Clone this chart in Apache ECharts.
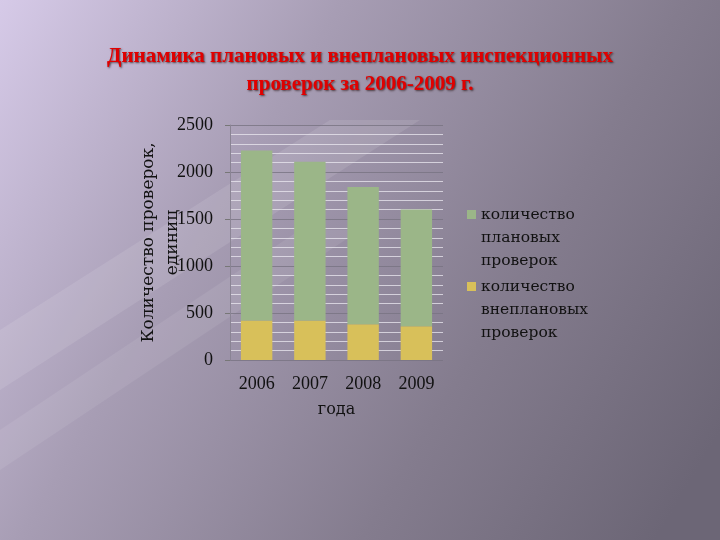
<!DOCTYPE html>
<html>
<head>
<meta charset="utf-8">
<script src="https://cdn.jsdelivr.net/npm/echarts@6/dist/echarts.min.js"></script>
<style>
  html, body { margin: 0; padding: 0; }
  #main { width: 720px; height: 540px; }
</style>
</head>
<body>
<div id="main"></div>
<script>
// годы и значения
var years = ['2006', '2007', '2008', '2009'];
var planned = [1810, 1690, 1460, 1240];   // количество плановых проверок
var unplanned = [420, 420, 380, 360];     // количество внеплановых проверок
var yTicks = [0, 500, 1000, 1500, 2000, 2500];

(function () {
    var dom = document.getElementById('main');
    var myChart = echarts.init(dom);
    var serif = '"DejaVu Serif", "Liberation Serif", serif';
    var numFont = '"Liberation Serif", serif';
    // квадрат маркера легенды прижат к первой строке подписи
    var legendIcon = 'path://M0,0M0,7L9,7L9,16L0,16ZM0,69';
    var option = {
        animation: false,
        backgroundColor: {
            type: 'linear', x: 0, y: 0, x2: 1, y2: 0.8,
            colorStops: [
                { offset: 0, color: '#d6cae8' },
                { offset: 0.35, color: '#a79db4' },
                { offset: 0.7, color: '#847c8e' },
                { offset: 1, color: '#6c6676' }
            ]
        },
        graphic: [
            // светлые диагональные полосы фона
            { type: 'polygon', silent: true, z: -1,
              shape: { points: [[0, 330], [0, 390], [420, 120], [330, 120]] },
              style: { fill: 'rgba(255,255,255,0.10)' } },
            { type: 'polygon', silent: true, z: -1,
              shape: { points: [[0, 430], [0, 470], [360, 230], [300, 230]] },
              style: { fill: 'rgba(255,255,255,0.08)' } }
        ],
        title: {
            text: 'Динамика плановых и внеплановых инспекционных\nпроверок за 2006-2009 г.',
            left: 'center',
            top: 38,
            textStyle: {
                fontFamily: '"Liberation Serif", serif',
                fontSize: 21,
                fontWeight: 'bold',
                color: '#e00000',
                lineHeight: 28,
                textShadowColor: 'rgba(40,20,20,0.7)',
                textShadowBlur: 2,
                textShadowOffsetX: 1,
                textShadowOffsetY: 1
            }
        },
        legend: {
            orient: 'vertical',
            left: 462,
            top: 198,
            itemWidth: 9,
            itemHeight: 69,
            itemGap: 3,
            icon: legendIcon,
            textStyle: { fontFamily: serif, fontSize: 15.5, color: '#111', lineHeight: 23 },
            data: ['количество\nплановых\nпроверок', 'количество\nвнеплановых\nпроверок']
        },
        grid: { left: 230, top: 125, width: 213, height: 235 },
        xAxis: {
            type: 'category',
            data: years,
            name: 'года',
            nameLocation: 'middle',
            nameGap: 42,
            nameTextStyle: { fontFamily: serif, fontSize: 16, color: '#111' },
            axisLine: { show: false },
            axisTick: { show: false },
            axisLabel: { fontFamily: numFont, fontSize: 18, color: '#111', margin: 15 }
        },
        yAxis: {
            type: 'value',
            min: yTicks[0],
            max: yTicks[yTicks.length - 1],
            interval: 500,
            name: 'Количество проверок,\nединиц',
            nameLocation: 'middle',
            nameGap: 45,
            nameMoveOverlap: false,
            nameRotate: 90,
            nameTextStyle: { fontFamily: serif, fontSize: 17, color: '#111', lineHeight: 24 },
            axisLine: { show: true, lineStyle: { color: '#8a8494' } },
            axisTick: { show: true, length: 5, lineStyle: { color: '#777' } },
            axisLabel: {
                fontFamily: numFont, fontSize: 18, color: '#111', margin: 17,
                formatter: function (v) { return String(v); }
            },
            splitLine: { show: true, lineStyle: { color: 'rgba(120,115,130,0.8)' } },
            minorTick: { show: false, splitNumber: 5 },
            minorSplitLine: { show: true, lineStyle: { color: 'rgba(235,232,240,0.75)' } }
        },
        series: [
            {
                name: 'количество\nвнеплановых\nпроверок',
                type: 'bar',
                stack: 'total',
                barWidth: '59%',
                data: unplanned,
                itemStyle: { color: '#d8c05a' }
            },
            {
                name: 'количество\nплановых\nпроверок',
                type: 'bar',
                stack: 'total',
                barWidth: '59%',
                data: planned,
                itemStyle: { color: '#9bb688' }
            }
        ]
    };
    myChart.setOption(option);
})();
</script>
</body>
</html>
